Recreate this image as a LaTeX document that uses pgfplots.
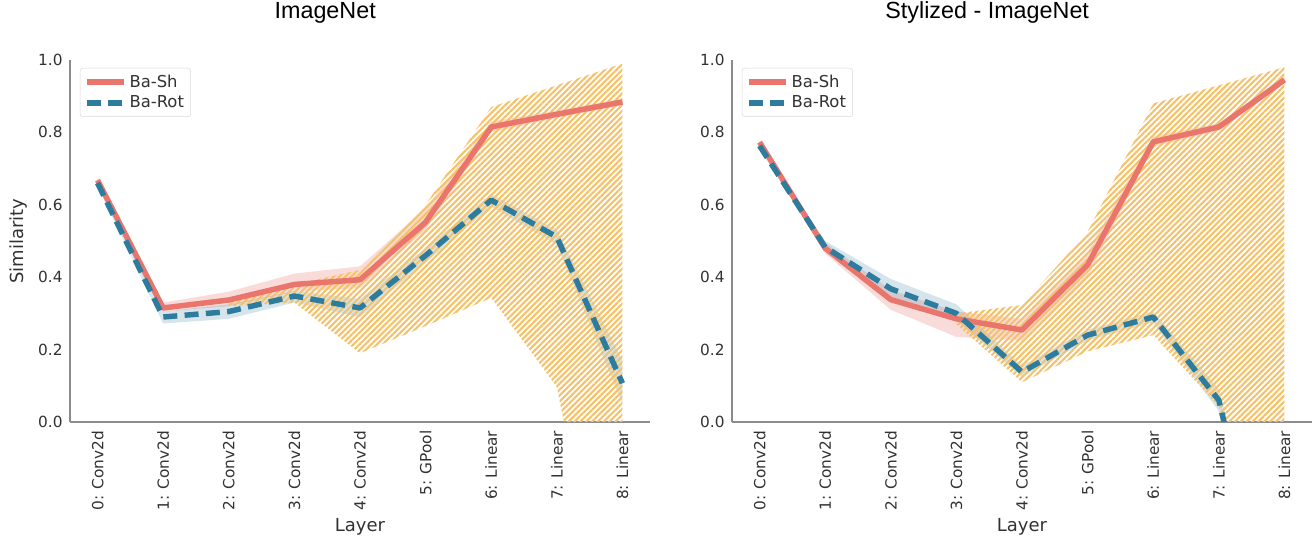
\documentclass[border=0pt]{standalone}
\usepackage{fontspec}
\setmainfont{DejaVu Sans}
\newfontfamily\titlefont{Liberation Sans}
\usepackage{pgfplots}
\pgfplotsset{compat=1.18}
\usetikzlibrary{patterns.meta}

\definecolor{cred}{RGB}{233,117,109}
\definecolor{cblue}{RGB}{46,124,157}
\definecolor{chatch}{RGB}{245,193,105}
\definecolor{caxis}{RGB}{140,140,140}
\definecolor{ctext}{RGB}{50,50,50}

\pgfplotsset{
  simil/.style={
    scale only axis, width=435pt, height=271.5pt,
    xmin=-0.42, xmax=8.42, ymin=0, ymax=1,
    axis x line*=bottom, axis y line*=left,
    axis line style={caxis, line width=1.1pt, -},
    major tick length=0pt,
    xtick={0,1,2,3,4,5,6,7,8},
    xticklabels={0: Conv2d,1: Conv2d,2: Conv2d,3: Conv2d,4: Conv2d,5: GPool,6: Linear,7: Linear,8: Linear},
    xticklabel style={rotate=90, anchor=east, font=\fontsize{11.5}{13}\selectfont, text=ctext},
    xticklabel shift=3pt,
    ytick={0,0.2,0.4,0.6,0.8,1.0},
    yticklabel style={/pgf/number format/fixed, /pgf/number format/fixed zerofill, /pgf/number format/precision=1, font=\fontsize{11.5}{13}\selectfont, text=ctext},
    yticklabel shift=2pt,
    /pgf/number format/assume math mode=true,
    xlabel={Layer},
    xlabel style={at={(axis description cs:0.5,-0.29)}, anchor=center, font=\fontsize{13.5}{15}\selectfont, text=ctext},
    title style={at={(axis description cs:0.44,1)}, anchor=base, yshift=24.75pt, font=\titlefont\fontsize{17.5}{20}\selectfont},
    legend style={at={(axis description cs:0.017,0.978)}, anchor=north west, draw=black!15, rounded corners=2pt, fill=white,
      font=\fontsize{12.3}{14}\selectfont, text=ctext, cells={anchor=west}, inner xsep=3pt, inner ysep=3pt, row sep=1pt},
    legend image code/.code={\draw[#1] (0pt,0pt) -- (28pt,0pt);},
    clip=true,
  },
  redline/.style={cred, line width=4.1pt, line join=round},
  blueline/.style={cblue, line width=4.1pt, dash pattern=on 10.5pt off 5.5pt, line join=round},
  redband/.style={forget plot, draw=none, fill=cred, fill opacity=0.25},
  blueband/.style={forget plot, draw=none, fill=cblue, fill opacity=0.2},
  hatchband/.style={forget plot, draw=none, pattern={Lines[angle=45, distance=3.1pt, line width=1.6pt]}, pattern color=chatch},
}

\begin{document}
\begin{tikzpicture}
\path[use as bounding box] (0,0) rectangle (986.25pt,409.5pt);

% ---------------- Left: ImageNet ----------------
\begin{axis}[simil, at={(52.5pt,93pt)}, anchor=south west,
  title={ImageNet},
  ylabel={Similarity},
  ylabel style={at={(axis description cs:-0.088,0.5)}, anchor=center, font=\fontsize{13.5}{15}\selectfont, text=ctext},
]
\addplot[redband] coordinates {
 (0,0.676) (1,0.33) (2,0.36) (3,0.41) (4,0.43) (5,0.59) (6,0.83) (7,0.86) (8,0.893)
 (8,0.875) (7,0.84) (6,0.80) (5,0.53) (4,0.37) (3,0.36) (2,0.32) (1,0.305) (0,0.66)} -- cycle;
\addplot[blueband] coordinates {
 (0,0.668) (1,0.305) (2,0.325) (3,0.362) (4,0.34) (5,0.48) (6,0.63) (7,0.53) (8,0.17)
 (8,0.05) (7,0.49) (6,0.595) (5,0.44) (4,0.29) (3,0.33) (2,0.285) (1,0.272) (0,0.652)} -- cycle;
\addplot[hatchband] coordinates {
 (2,0.34) (3,0.38) (4,0.42) (5,0.60) (6,0.87) (7,0.93) (8,0.99)
 (8,-0.8) (7,0.097) (6,0.343) (5,0.265) (4,0.19) (3,0.33) (2,0.32)} -- cycle;
\addplot[redline] coordinates {
 (0,0.668) (1,0.315) (2,0.337) (3,0.38) (4,0.393) (5,0.552) (6,0.815) (7,0.85) (8,0.884)};
\addlegendentry{Ba-Sh}
\addplot[blueline] coordinates {
 (0,0.66) (1,0.29) (2,0.305) (3,0.348) (4,0.315) (5,0.46) (6,0.613) (7,0.511) (8,0.107)};
\addlegendentry{Ba-Rot}
\end{axis}

% ---------------- Right: Stylized - ImageNet ----------------
\begin{axis}[simil, at={(549pt,93pt)}, anchor=south west,
  title={Stylized - ImageNet},
]
\addplot[redband] coordinates {
 (0,0.78) (1,0.495) (2,0.365) (3,0.305) (4,0.285) (5,0.47) (6,0.79) (7,0.825) (8,0.955)
 (8,0.935) (7,0.805) (6,0.76) (5,0.40) (4,0.225) (3,0.235) (2,0.31) (1,0.465) (0,0.765)} -- cycle;
\addplot[blueband] coordinates {
 (0,0.77) (1,0.50) (2,0.395) (3,0.325) (4,0.155) (5,0.255) (6,0.305) (7,0.09) (8,-0.6)
 (8,-0.8) (7,0.03) (6,0.275) (5,0.225) (4,0.125) (3,0.28) (2,0.345) (1,0.47) (0,0.755)} -- cycle;
\addplot[hatchband] coordinates {
 (3,0.30) (4,0.323) (5,0.525) (6,0.88) (7,0.93) (8,0.98)
 (8,-0.6) (7,0.043) (6,0.24) (5,0.195) (4,0.11) (3,0.27)} -- cycle;
\addplot[redline] coordinates {
 (0,0.773) (1,0.48) (2,0.338) (3,0.285) (4,0.254) (5,0.434) (6,0.774) (7,0.815) (8,0.945)};
\addlegendentry{Ba-Sh}
\addplot[blueline] coordinates {
 (0,0.763) (1,0.483) (2,0.368) (3,0.30) (4,0.138) (5,0.24) (6,0.29) (7,0.06) (8,-0.7)};
\addlegendentry{Ba-Rot}
\end{axis}
\end{tikzpicture}
\end{document}
